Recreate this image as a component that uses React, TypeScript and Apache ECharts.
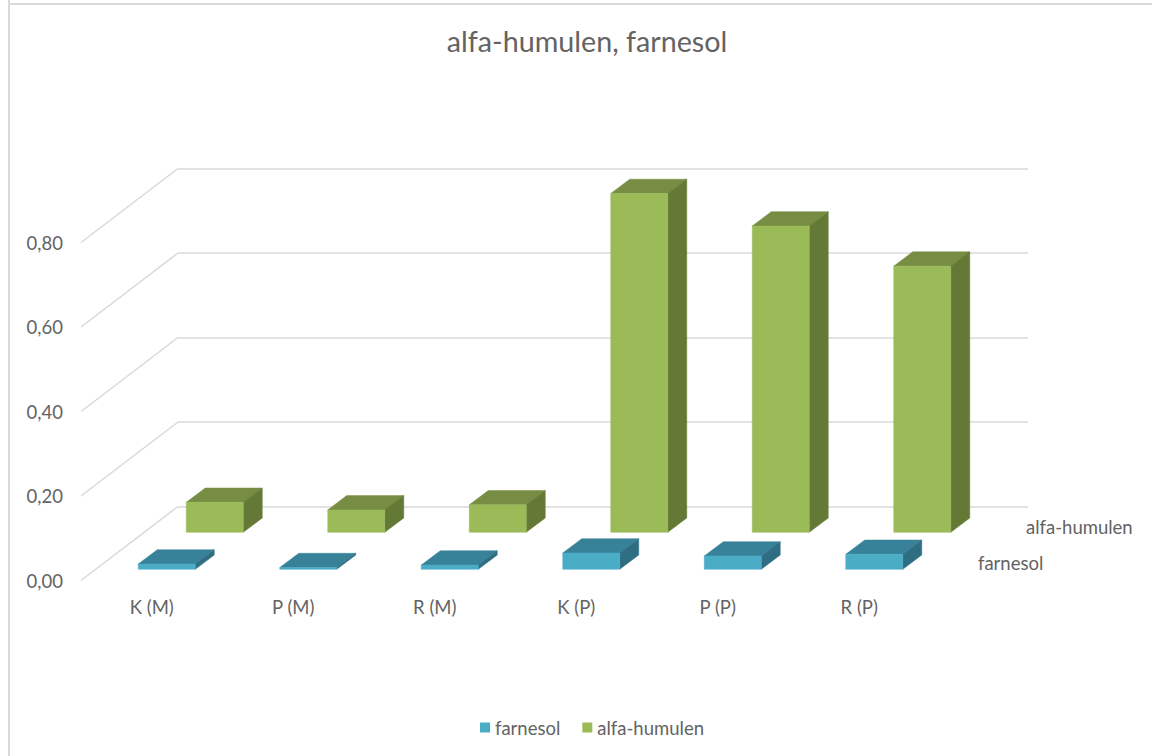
import React, { useEffect, useRef } from "react";
import * as echarts from "echarts";

const categories = ["K (M)", "P (M)", "R (M)", "K (P)", "P (P)", "R (P)"];
const farnesol = [0.0125, 0.004, 0.01, 0.0386, 0.0315, 0.0355];
const alfaHumulen = [0.071, 0.053, 0.065, 0.802, 0.725, 0.63];
const wallTicks = [0, 0.2, 0.4, 0.6, 0.8];
const FONT = "Lato, 'Open Sans', sans-serif";
const GREY = "#636363";
const LINE = "#d9d9d9";

const box = (dx: number, dy: number, barW: number, front: string, top: string, side: string) =>
  (_p: any, api: any) => {
    const base = api.coord([api.value(0), 0]);
    const head = api.coord([api.value(0), api.value(1)]);
    const l = base[0] + dx - barW / 2;
    const r = l + barW;
    const b = base[1] + dy;
    const t = head[1] + dy;
    const dX = 19;
    const dY = 14.3;
    const poly = (points: number[][], fill: string) => ({
      type: "polygon",
      shape: { points },
      style: { fill, stroke: fill, lineWidth: 0.5 },
    });
    return {
      type: "group",
      children: [
        poly([[l, t], [r, t], [r + dX, t - dY], [l + dX, t - dY]], top),
        poly([[r, t], [r + dX, t - dY], [r + dX, b - dY], [r, b]], side),
        poly([[l, t], [r, t], [r, b], [l, b]], front),
      ],
    };
  };

const diagonals = (_p: any, api: any) => {
  const p = api.coord([0, api.value(0)]);
  const x0 = api.coord([0, 0])[0] - api.size([1, 0])[0] / 2;
  return {
    type: "line",
    shape: { x1: x0, y1: p[1], x2: x0 + 97, y2: p[1] - 74 },
    style: { stroke: LINE, lineWidth: 1.5, fill: "none" },
  };
};

export default function App() {
  const ref = useRef<HTMLDivElement>(null);
  useEffect(() => {
    document.body.style.margin = "0";
    const chart = echarts.init(ref.current!, undefined, { renderer: "svg" });
    chart.setOption({
      animation: false,
      backgroundColor: "#ffffff",
      title: {
        text: "alfa-humulen, farnesol",
        left: 582,
        top: 21,
        textAlign: "center",
        textStyle: { fontFamily: FONT, fontSize: 28.7, fontWeight: "normal", color: GREY },
      },
      legend: {
        left: 475,
        top: 713,
        itemWidth: 10,
        itemHeight: 10,
        itemGap: 22,
        data: [
          { name: "farnesol", icon: "rect", itemStyle: { color: "#4bacc6" } },
          { name: "alfa-humulen", icon: "rect", itemStyle: { color: "#9bbb59" } },
        ],
        textStyle: { fontFamily: FONT, fontSize: 18.5, color: GREY },
      },
      grid: [
        { left: 81, top: 242.5, width: 849, height: 338 },
        { left: 178, top: 168.5, width: 850, height: 338 },
      ],
      xAxis: [
        {
          type: "category",
          gridIndex: 0,
          data: categories,
          axisLine: { show: false },
          axisTick: { show: false },
          axisLabel: { fontFamily: FONT, fontSize: 18.5, color: GREY, margin: 17 },
        },
        { type: "category", gridIndex: 1, data: categories, show: false },
      ],
      yAxis: [
        {
          type: "value",
          gridIndex: 0,
          min: 0,
          max: 0.8,
          interval: 0.2,
          axisLine: { show: false },
          axisTick: { show: false },
          splitLine: { show: false },
          axisLabel: {
            fontFamily: FONT,
            fontSize: 18.5,
            color: GREY,
            margin: 18,
            padding: [0, 0, 3, 0],
            formatter: (v: number) => v.toFixed(2).replace(".", ","),
          },
        },
        {
          type: "value",
          gridIndex: 1,
          min: 0,
          max: 0.8,
          interval: 0.2,
          axisLine: { show: false },
          axisTick: { show: false },
          axisLabel: { show: false },
          splitLine: { show: true, lineStyle: { color: LINE, width: 1.5 } },
        },
      ],
      series: [
        {
          type: "custom",
          name: "walls",
          xAxisIndex: 0,
          yAxisIndex: 0,
          silent: true,
          clip: false,
          data: wallTicks.map((v) => [v]),
          encode: { y: 0 },
          renderItem: diagonals,
        },
        {
          type: "custom",
          name: "alfa-humulen",
          xAxisIndex: 0,
          yAxisIndex: 0,
          clip: false,
          itemStyle: { color: "#9bbb59" },
          data: alfaHumulen.map((v, i) => [i, v]),
          encode: { x: 0, y: 1 },
          renderItem: box(63, -48.2, 57, "#9bbb59", "#768d43", "#637935"),
        },
        {
          type: "custom",
          name: "farnesol",
          xAxisIndex: 0,
          yAxisIndex: 0,
          clip: false,
          itemStyle: { color: "#4bacc6" },
          data: farnesol.map((v, i) => [i, v]),
          encode: { x: 0, y: 1 },
          renderItem: box(15, -11.2, 57, "#4bacc6", "#378299", "#2f6e82"),
        },
      ],
      graphic: [
        { type: "line", silent: true, shape: { x1: 9, y1: 0, x2: 9, y2: 756 }, style: { stroke: LINE, lineWidth: 2 } },
        { type: "line", silent: true, shape: { x1: 9, y1: 4, x2: 1152, y2: 4 }, style: { stroke: LINE, lineWidth: 2 } },
        {
          type: "text",
          x: 1026,
          y: 527,
          style: { text: "alfa-humulen", font: `18.5px ${FONT}`, fill: GREY, textAlign: "left", textVerticalAlign: "middle" },
        },
        {
          type: "text",
          x: 978,
          y: 563,
          style: { text: "farnesol", font: `18.5px ${FONT}`, fill: GREY, textAlign: "left", textVerticalAlign: "middle" },
        },
      ],
    });
    return () => chart.dispose();
  }, []);
  return <div ref={ref} style={{ width: 1152, height: 756 }} />;
}
